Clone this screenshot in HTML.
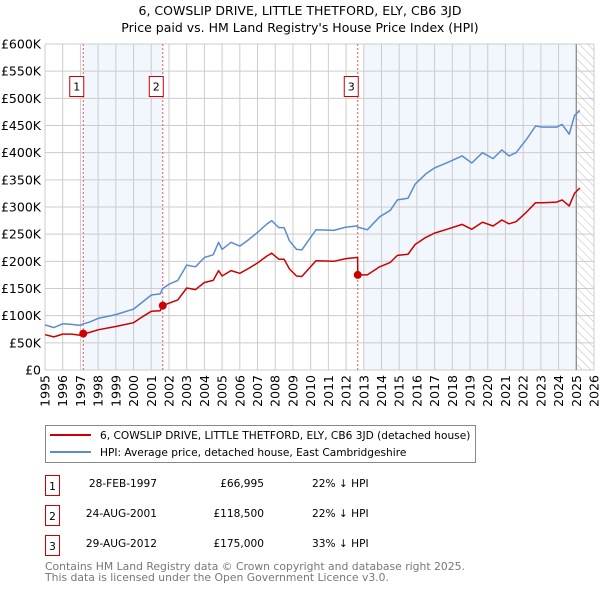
<!DOCTYPE html>
<html><head><meta charset="utf-8"><style>
body{margin:0;background:#fff;}
svg{display:block;font-family:"DejaVu Sans","Liberation Sans",sans-serif;}
</style></head><body>
<svg id="c" width="600" height="590" viewBox="0 0 600 590">
<defs><pattern id="hatch" width="6" height="6" patternUnits="userSpaceOnUse" patternTransform="rotate(-45)"><line x1="0" y1="0" x2="0" y2="6" stroke="#bbb" stroke-width="1"/></pattern></defs>
<text x="300" y="15" text-anchor="middle" font-size="12.5" fill="#000">6, COWSLIP DRIVE, LITTLE THETFORD, ELY, CB6 3JD</text>
<text x="300" y="32" text-anchor="middle" font-size="12.5" fill="#000">Price paid vs. HM Land Registry's House Price Index (HPI)</text>
<g id="plot"></g>
<g>
<rect x="45.5" y="425.5" width="430" height="37" fill="#fff" stroke="#888"/>
<line x1="50" y1="435" x2="91" y2="435" stroke="#cc0000" stroke-width="2"/>
<text x="100" y="439" font-size="10.6">6, COWSLIP DRIVE, LITTLE THETFORD, ELY, CB6 3JD (detached house)</text>
<line x1="50" y1="452" x2="91" y2="452" stroke="#5b8ccf" stroke-width="2"/>
<text x="100" y="456" font-size="10.6">HPI: Average price, detached house, East Cambridgeshire</text>
</g>
<g font-size="10.6">
<rect x="45.5" y="475.5" width="14" height="20" fill="#fff" stroke="#cc0000"/><text x="52.5" y="490" text-anchor="middle">1</text>
<text x="157" y="487" text-anchor="end">28-FEB-1997</text><text x="264" y="487" text-anchor="end">£66,995</text><text x="312" y="487">22% ↓ HPI</text>
<rect x="45.5" y="505.5" width="14" height="20" fill="#fff" stroke="#cc0000"/><text x="52.5" y="520" text-anchor="middle">2</text>
<text x="157" y="517" text-anchor="end">24-AUG-2001</text><text x="264" y="517" text-anchor="end">£118,500</text><text x="312" y="517">22% ↓ HPI</text>
<rect x="45.5" y="535.5" width="14" height="20" fill="#fff" stroke="#cc0000"/><text x="52.5" y="550" text-anchor="middle">3</text>
<text x="157" y="547" text-anchor="end">29-AUG-2012</text><text x="264" y="547" text-anchor="end">£175,000</text><text x="312" y="547">33% ↓ HPI</text>
</g>
<text x="45" y="570" font-size="10.8" fill="#777">Contains HM Land Registry data © Crown copyright and database right 2025.</text>
<text x="45" y="581" font-size="10.8" fill="#777">This data is licensed under the Open Government Licence v3.0.</text>
</svg>
<script>
const hpiYears=[1995,1995.5,1996,1996.5,1997,1997.16,1997.5,1998,1999,2000,2000.5,2001,2001.5,2001.65,2002,2002.5,2003,2003.5,2004,2004.5,2004.8,2005,2005.5,2006,2006.5,2007,2007.5,2007.8,2008.2,2008.5,2008.8,2009.2,2009.5,2010.3,2011.3,2012,2012.6,2012.66,2013.2,2013.9,2014.5,2014.9,2015.5,2015.9,2016.5,2017,2017.8,2018.55,2019.1,2019.7,2020.3,2020.8,2021.2,2021.6,2022.2,2022.7,2023.1,2023.9,2024.2,2024.6,2024.9,2025.2];
const hpiValues=[83,78,85,84,82,85,88,95,102,112,125,138,140,150,158,165,193,190,207,212,235,222,235,228,240,253,268,275,262,262,238,222,221,258,257,263,265,263,258,282,294,313,316,342,361,372,383,394,381,400,389,405,394,400,425,449,447,447,452,434,468,478];
const priceYears=[1995,1995.5,1996,1996.5,1997,1997.16,1997.5,1998,1999,2000,2000.5,2001,2001.5,2001.65,2002,2002.5,2003,2003.5,2004,2004.5,2004.8,2005,2005.5,2006,2006.5,2007,2007.5,2007.8,2008.2,2008.5,2008.8,2009.2,2009.5,2010.3,2011.3,2012,2012.6,2012.65,2012.66,2013.2,2013.9,2014.5,2014.9,2015.5,2015.9,2016.5,2017,2017.8,2018.55,2019.1,2019.7,2020.3,2020.8,2021.2,2021.6,2022.2,2022.7,2023.1,2023.9,2024.2,2024.6,2024.9,2025.2];
const priceValues=[65,61,66,66,64,67,69,74,80,87,98,108,109,118.5,123,129,151,148,161,165,183,173,183,178,187,197,209,215,204,204,186,173,172,201,200,205,207,207,175,175,190,198,211,213,231,244,252,260,268,259,272,265,276,269,273,291,308,308,309,313,302,325,335];
const saleYears=[1997.16,2001.65,2012.66];
const saleValues=[66.995,118.5,175];
const saleLabels=["1","2","3"];
const yTicks=[0,50,100,150,200,250,300,350,400,450,500,550,600];
const yTickLabels=["£0","£50K","£100K","£150K","£200K","£250K","£300K","£350K","£400K","£450K","£500K","£550K","£600K"];
const xTicks=[1995,1996,1997,1998,1999,2000,2001,2002,2003,2004,2005,2006,2007,2008,2009,2010,2011,2012,2013,2014,2015,2016,2017,2018,2019,2020,2021,2022,2023,2024,2025,2026];

const X0=45,X1=594,Y0=370,Y1=44;
const x=y=>X0+(y-1995)/31*(X1-X0);
const yv=v=>Y0-v/600*(Y0-Y1);
const NS="http://www.w3.org/2000/svg";
const g=document.getElementById('plot');
function mk(t,a,p){const e=document.createElementNS(NS,t);for(const k in a)e.setAttribute(k,a[k]);(p||g).appendChild(e);return e;}
let s=mk('rect',{x:x(saleYears[0]),y:Y1,width:x(saleYears[1])-x(saleYears[0]),height:Y0-Y1,fill:'#f2f6fd'});


s=mk('rect',{x:x(2013),y:Y1,width:x(2025)-x(2013),height:Y0-Y1,fill:'#f2f6fd'});


s=mk('rect',{x:x(2025),y:Y1,width:X1-x(2025),height:Y0-Y1,fill:'url(#hatch)'});


yTicks.forEach((t,i)=>{
  const l=mk('line',{x1:X0,x2:X1,y1:yv(t),y2:yv(t),stroke:'#ccc','stroke-width':1});
  
  
  const tx=mk('text',{x:X0-4,y:yv(t)+4.5,'text-anchor':'end','font-size':12.5,fill:'#000'});
  
  
  tx.textContent=yTickLabels[i];
});
xTicks.forEach(t=>{
  const l=mk('line',{x1:x(t),x2:x(t),y1:Y1,y2:Y0,stroke:'#ccc','stroke-width':1});
  
  
  const tx=mk('text',{transform:`translate(${x(t)+4.5},${Y0+5}) rotate(-90)`,'text-anchor':'end','font-size':12.5,fill:'#000'});
  
  
  tx.textContent=t;
});
let v=mk('line',{x1:x(2025),x2:x(2025),y1:Y1,y2:Y0,stroke:'#888','stroke-width':1.2});


saleYears.forEach((sy,i)=>{
  const l=mk('line',{x1:x(sy),x2:x(sy),y1:Y1,y2:Y0,stroke:'#ee5555','stroke-width':1,'stroke-dasharray':'2,2'});
  
  
  const b=mk('rect',{x:x(sy)-13.5,y:76.5,width:14,height:20,fill:'#fff',stroke:'#cc0000'});
  
  
  const tx=mk('text',{x:x(sy)-6.5,y:90.5,'text-anchor':'middle','font-size':11});
  
  
  tx.textContent=saleLabels[i];
});
function path(xs,vs){return xs.map((t,i)=>(i?'L':'M')+x(t).toFixed(1)+','+yv(vs[i]).toFixed(1)).join('');}
let p=mk('path',{d:path(hpiYears,hpiValues),fill:'none',stroke:'#5b8ccf','stroke-width':1.5,'stroke-linejoin':'round'});


p=mk('path',{d:path(priceYears,priceValues),fill:'none',stroke:'#cc0000','stroke-width':1.5,'stroke-linejoin':'round'});


saleYears.forEach((sy,i)=>{
  const c=mk('circle',{cx:x(sy),cy:yv(saleValues[i]),r:4,fill:'#cc0000'});
  
  
});
</script>
</body></html>
